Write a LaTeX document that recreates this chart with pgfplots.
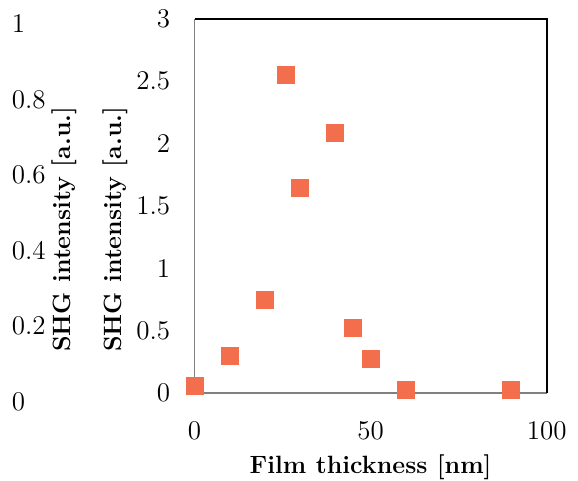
\documentclass[border=0pt]{standalone}
\usepackage{fontspec}
\usepackage{pgfplots}
\pgfplotsset{compat=1.18}
\definecolor{mk}{RGB}{242,110,76}
\definecolor{gl}{RGB}{128,128,128}
\pgfplotstableread{
x y
0 0.054
10 0.292
20 0.742
26 2.548
30 1.640
40 2.082
45 0.517
50 0.268
60 0.019
90 0.019
}\datatab
\begin{document}
\begin{tikzpicture}
\path[use as bounding box] (0,0) rectangle (289pt,240.5pt);
% ghost axis
\begin{axis}[
  at={(5.75pt,39.65pt)}, anchor=south west,
  scale only axis, width=176.1pt, height=188.85pt,
  xmin=0, xmax=100, ymin=0, ymax=1,
  hide x axis,
  y axis line style={draw=none},
  axis y line*=left,
  major tick length=0pt,
  ytick={0,0.2,0.4,0.6,0.8,1},
  /pgf/number format/assume math mode=true,
  yticklabel style={anchor=west, inner sep=0pt, font=\fontsize{13.5}{15}\selectfont},
  ylabel={\textbf{SHG intensity [a.u.]}},
  ylabel style={at={(axis description cs:0.149,0.4567)}, anchor=center, font=\fontsize{12.5}{14}\selectfont},
]
\end{axis}
% main axis
\begin{axis}[
  at={(97.25pt,44.15pt)}, anchor=south west,
  scale only axis, width=176.1pt, height=186.85pt,
  xmin=0, xmax=100, ymin=0, ymax=3,
  axis line style={draw=none},
  major tick length=0pt,
  xtick={0,50,100}, ytick={0,0.5,1,1.5,2,2.5,3},
  /pgf/number format/assume math mode=true,
  yticklabel style={anchor=east, inner sep=0pt, xshift=-12pt, font=\fontsize{13.5}{15}\selectfont},
  xticklabel style={anchor=north, inner sep=0pt, yshift=-14pt, font=\fontsize{13.5}{15}\selectfont},
  xlabel={\textbf{Film thickness [nm]}},
  xlabel style={at={(axis description cs:0.5,-0.165)}, anchor=north, inner sep=0pt, font=\fontsize{12.5}{14}\selectfont},
  ylabel={\textbf{SHG intensity [a.u.]}},
  ylabel style={at={(axis description cs:-0.2237,0.4375)}, anchor=center, font=\fontsize{12.5}{14}\selectfont},
  clip=false,
]
\draw[gl, line width=0.9pt] (rel axis cs:0,1) -- (rel axis cs:0,0) -- (rel axis cs:1,0);
\draw[black, line width=0.9pt] (rel axis cs:0,1) -- (rel axis cs:1,1) -- (rel axis cs:1,0);
\addplot[only marks, color=mk, mark=square*, mark size=4.25pt, mark options={fill=mk, draw=mk, line width=0pt}] table[x=x,y=y] {\datatab};
\end{axis}
\end{tikzpicture}
\end{document}
